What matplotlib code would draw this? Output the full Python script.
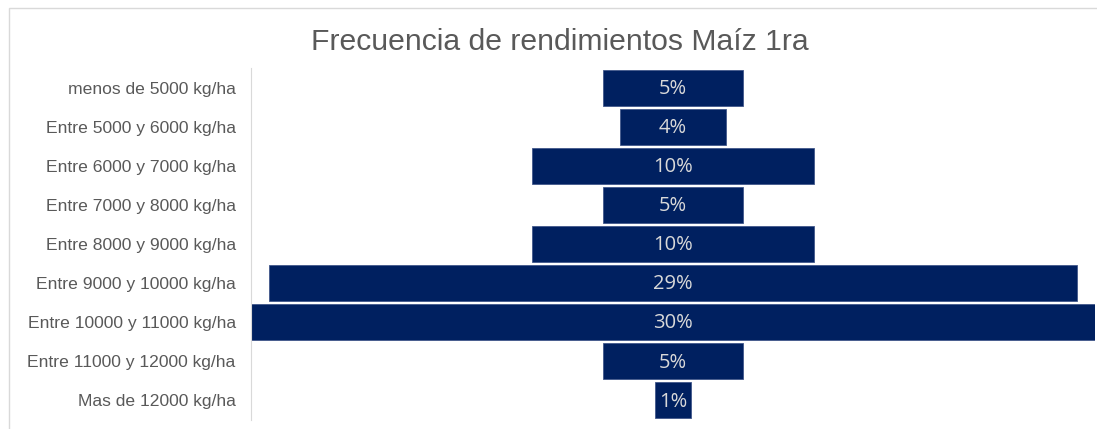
import matplotlib.pyplot as plt
from matplotlib.patches import Rectangle

categories = ["menos de 5000 kg/ha", "Entre 5000 y 6000 kg/ha", "Entre 6000 y 7000 kg/ha",
              "Entre 7000 y 8000 kg/ha", "Entre 8000 y 9000 kg/ha", "Entre 9000 y 10000 kg/ha",
              "Entre 10000 y 11000 kg/ha", "Entre 11000 y 12000 kg/ha", "Mas de 12000 kg/ha"]
values = [5.0, 3.75, 10.0, 5.0, 10.0, 28.75, 30.0, 5.0, 1.25]
labels = ["5%", "4%", "10%", "5%", "10%", "29%", "30%", "5%", "1%"]

W, H = 1097, 429
fig = plt.figure(figsize=(W / 100, H / 100), dpi=100)
fig.patches.append(Rectangle((9 / W, -0.1), 1.2, 1.1 - 8 / H, transform=fig.transFigure,
                             fill=False, edgecolor='#d9d9d9', linewidth=1))
ax = fig.add_axes([251 / W, 1 - 420 / H, (1095 - 251) / W, (420 - 68) / H])

ypos = list(range(len(values)))
lefts = [-v / 2 for v in values]
ax.barh(ypos, values, left=lefts, height=0.92, color='#002060', edgecolor='#41578a', linewidth=0.6)
for y, lab in zip(ypos, labels):
    ax.text(0, y + 0.03, lab, ha='center', va='center',
            color='#d9d9d9', fontsize=14.5, family='Open Sans')

ax.set_xlim(-15, 15)
ax.set_ylim(len(values) - 0.5, -0.5)
ax.set_yticks(ypos)
ax.set_yticklabels(categories, fontsize=12.6, color='#595959', family='Liberation Sans')
ax.tick_params(axis='y', length=0, pad=11)
ax.set_xticks([])
for s in ['top', 'right', 'bottom']:
    ax.spines[s].set_visible(False)
ax.spines['left'].set_color('#d9d9d9')

fig.text(560 / W, 1 - 42 / H, "Frecuencia de rendimientos Maíz 1ra", ha='center', va='center',
         fontsize=21.7, color='#595959', family='Liberation Sans')

fig.savefig('out.png', dpi=100)
